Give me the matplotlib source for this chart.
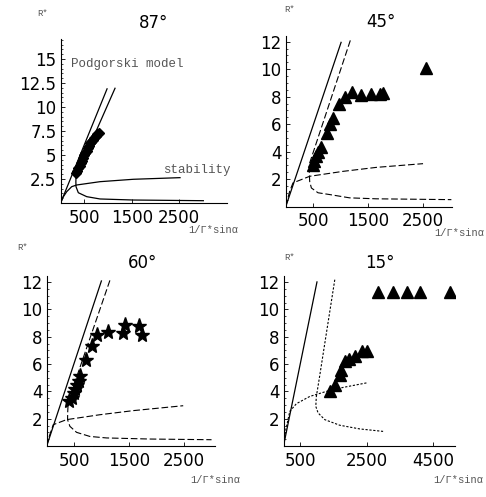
import numpy as np
import matplotlib
matplotlib.use("Agg")
import matplotlib.pyplot as plt
from matplotlib.ticker import MultipleLocator

# ---- data: x = 1/Gamma*sin(alpha), y = R* ----

# 87 deg panel
p87_line_left = [(0, 0), (985, 11.95)]
p87_line_right = [(1148, 11.95), (325, 2.74), (322, 2.2), (325, 1.7), (374, 1.07), (551, 0.66),
                  (831, 0.42), (1534, 0.31), (3011, 0.24)]
p87_upper = [(0, 0), (51, 0.6), (129, 1.18), (234, 1.7), (339, 1.875), (831, 2.22),
             (1534, 2.47), (2519, 2.64)]
p87_x = [330, 350, 375, 400, 425, 450, 475, 500, 525, 550, 575, 600, 625, 650, 680, 710,
         740, 770, 800]
p87_y = [3.1, 3.35, 3.6, 3.9, 4.15, 4.4, 4.7, 4.95, 5.2, 5.45, 5.7, 5.95, 6.2, 6.4, 6.6,
         6.8, 7.0, 7.15, 7.25]

# 45 deg panel
p45_line_left = [(0, 0), (1009, 12.0)]
p45_line_right = [(1173, 12.1), (434, 3.17), (428, 2.5), (434, 1.83), (465, 1.35), (586, 1.0),
                  (797, 0.87), (980, 0.75), (1160, 0.63), (1646, 0.56), (3010, 0.5)]
p45_upper = [(0, 0), (70, 1.1), (131, 1.72), (434, 2.2), (1040, 2.56), (1646, 2.85), (2495, 3.12)]
p45_x = [494, 507, 543, 585, 646, 749, 810, 858, 961, 1070, 1204, 1362, 1555, 1718, 1767, 2555]
p45_y = [2.99, 3.28, 3.65, 3.94, 4.37, 5.34, 5.99, 6.43, 7.44, 7.95, 8.31, 8.12, 8.19, 8.16,
         8.28, 10.12]

# 60 deg panel
p60_line_left = [(0, 0), (998, 12.13)]
p60_line_right = [(1149, 12.13), (392, 3.27), (382, 2.5), (379, 1.93), (422, 1.44), (543, 1.0),
                  (785, 0.7), (1088, 0.59), (1876, 0.51), (2997, 0.46)]
p60_upper = [(0, 0), (46, 0.7), (119, 1.56), (361, 1.93), (967, 2.29), (1573, 2.59), (2482, 2.95)]
p60_x = [409, 452, 494, 519, 543, 585, 604, 713, 816, 919, 1118, 1391, 1422, 1682, 1725]
p60_y = [3.27, 3.52, 3.88, 4.17, 4.49, 4.73, 5.15, 6.27, 7.3, 8.15, 8.32, 8.28, 8.89, 8.81, 8.15]

# 15 deg panel
p15_line_left = [(0, 0), (1009, 12.06)]
p15_line_right = [(1540, 12.18), (1069, 4.86), (985, 3.6), (970, 2.9), (1039, 2.42), (1240, 1.93),
                  (1690, 1.52), (2291, 1.25), (2991, 1.07)]
p15_upper = [(0, 0), (69, 1.19), (189, 2.54), (388, 3.1), (790, 3.63), (1288, 4.0), (1790, 4.29),
             (2490, 4.62)]
p15_x = [1409, 1540, 1690, 1740, 1841, 1970, 2141, 2360, 2510, 2841, 3291, 3712, 4093, 4994]
p15_y = [4.0, 4.49, 5.22, 5.59, 6.2, 6.37, 6.57, 6.93, 6.93, 11.25, 11.25, 11.25, 11.25, 11.25]

W, H = 486, 497
fig = plt.figure(figsize=(W / 100, H / 100), dpi=100)
fig.patch.set_facecolor("white")

mono = "Liberation Mono"
grey = "#555555"


def make_axes(left, right, top, bottom):
    ax = fig.add_axes([left / W, (H - bottom) / H, (right - left) / W, (bottom - top) / H])
    ax.set_facecolor("none")
    for s in ["top", "right"]:
        ax.spines[s].set_visible(False)
    for s in ["left", "bottom"]:
        ax.spines[s].set_linewidth(0.8)
    ax.tick_params(which="major", direction="in", length=3, width=0.6, labelsize=12, pad=3)
    ax.tick_params(which="minor", direction="in", length=1.5, width=0.5)
    return ax


def draw_panel(ax, left_line, right_line, upper, xs, ys, dash, marker, ms):
    lx, ly = zip(*left_line)
    ax.plot(lx, ly, color="black", lw=0.9, solid_capstyle="butt")
    rx, ry = zip(*right_line)
    ux, uy = zip(*upper)
    if dash is None:
        ax.plot(rx, ry, color="black", lw=0.9)
        ax.plot(ux, uy, color="black", lw=0.9)
    else:
        ax.plot(rx, ry, color="black", lw=0.8, dashes=dash)
        ax.plot(ux, uy, color="black", lw=0.8, dashes=dash)
    ax.plot(xs, ys, linestyle="none", marker=marker, ms=ms, color="black")


# 87 deg
ax1 = make_axes(60.6, 227, 39, 203)
draw_panel(ax1, p87_line_left, p87_line_right, p87_upper, p87_x, p87_y, None, "D", 5)
ax1.set_xlim(0, 3510)
ax1.set_ylim(0, 17.08)
ax1.set_xticks([500, 1500, 2500])
ax1.set_yticks([2.5, 5, 7.5, 10, 12.5, 15])
ax1.set_yticklabels(["2.5", "5", "7.5", "10", "12.5", "15"])
ax1.yaxis.set_minor_locator(MultipleLocator(0.5))
ax1.text(0.06, 0.85, "Podgorski model", transform=ax1.transAxes, fontsize=9,
         family=mono, color=grey, va="center")
ax1.text(1.02, 0.2, "stability", transform=ax1.transAxes, fontsize=9,
         family=mono, color=grey, va="center", ha="right")

# 45 deg
ax2 = make_axes(285.8, 452.3, 36, 206.5)
draw_panel(ax2, p45_line_left, p45_line_right, p45_upper, p45_x, p45_y, (6, 2.5), "^", 9)
ax2.set_xlim(0, 3027)
ax2.set_ylim(0, 12.42)
ax2.set_xticks([500, 1500, 2500])
ax2.set_yticks([2, 4, 6, 8, 10, 12])
ax2.yaxis.set_minor_locator(MultipleLocator(0.5))

# 60 deg
ax3 = make_axes(46.7, 215, 276, 446)
draw_panel(ax3, p60_line_left, p60_line_right, p60_upper, p60_x, p60_y, (6, 2.5), "*", 11)
ax3.set_xlim(0, 3060)
ax3.set_ylim(0, 12.45)
ax3.set_xticks([500, 1500, 2500])
ax3.set_yticks([2, 4, 6, 8, 10, 12])
ax3.yaxis.set_minor_locator(MultipleLocator(0.5))

# 15 deg
ax4 = make_axes(283.5, 454.7, 276, 446)
draw_panel(ax4, p15_line_left, p15_line_right, p15_upper, p15_x, p15_y, (2, 1.5), "^", 9)
ax4.set_xlim(0, 5141)
ax4.set_ylim(0, 12.45)
ax4.set_xticks([500, 2500, 4500])
ax4.set_yticks([2, 4, 6, 8, 10, 12])
ax4.yaxis.set_minor_locator(MultipleLocator(0.5))

for ax in [ax1, ax2, ax3, ax4]:
    for lab in ax.get_xticklabels() + ax.get_yticklabels():
        lab.set_family("DejaVu Sans")
    ax.tick_params(axis="x", pad=4)

# titles, axis names (figure pixel positions)
titles = [("87°", 154, 23), ("45°", 381, 22), ("60°", 143, 263), ("15°", 380, 263)]
for t, x, y in titles:
    fig.text(x / W, 1 - y / H, t, fontsize=12, ha="center", va="center", family="DejaVu Sans")

rlabels = [(37, 13), (284, 9), (17, 248), (284, 257)]
for x, y in rlabels:
    fig.text(x / W, 1 - y / H, "R*", fontsize=6.5, family=mono, color=grey, va="center")

xlabels = [(188, 230), (434, 233), (190, 480), (433, 480)]
for x, y in xlabels:
    fig.text(x / W, 1 - y / H, "1/Γ*sinα", fontsize=7.5, family=[mono, "DejaVu Sans"],
             color=grey, va="center")

fig.savefig("out.png", dpi=100, facecolor="white")
